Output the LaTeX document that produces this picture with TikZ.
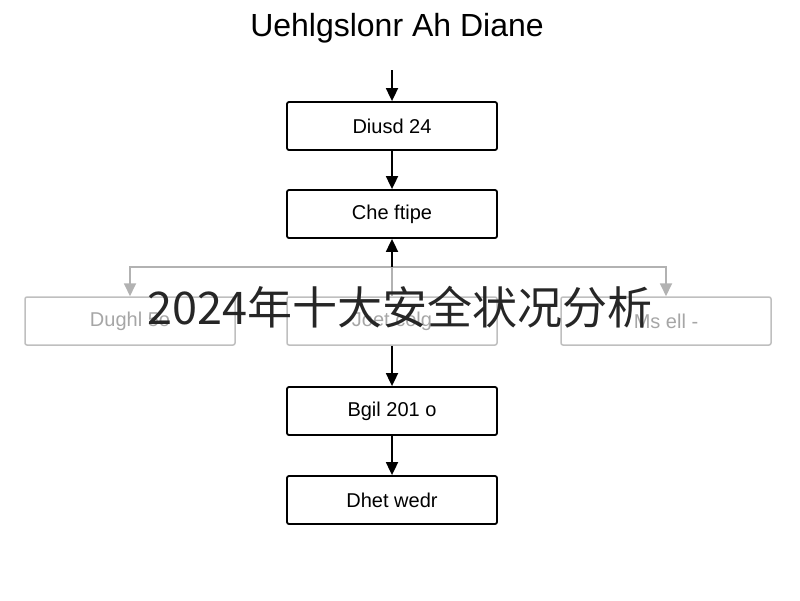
\documentclass[tikz,border=0pt]{standalone}
\usepackage{fontspec}
\setmainfont{Liberation Sans}
\newfontfamily\cjk{Noto Sans CJK SC}
\usetikzlibrary{arrows.meta}
\begin{document}
\begin{tikzpicture}[x=1pt,y=-1pt,
  bx/.style={draw,line width=1.8pt,rounded corners=2pt,minimum width=210pt,minimum height=48pt,font=\fontsize{20}{24}\selectfont},
  gbx/.style={bx,draw=black!25,text=black!35,line width=1.5pt},
  ar/.style={-{Triangle[length=13pt,width=12pt]},line width=1.8pt},
  gar/.style={ar,draw=black!30}]
\useasboundingbox (0,0) rectangle (800,600);
\node (t) at (397,28) {\fontsize{32}{36}\selectfont Uehlgslonr Ah Diane};
\node[bx] (b1) at (392,126) {Diusd 24};
\node[bx] (b2) at (392,214) {Che ftipe};
\node[gbx] (l) at (130,321) {Dughl 5o};
\node[gbx] (c) at (392,321) {Joet colg};
\node[gbx] (r) at (666,321) {Ms ell -};
\node[bx] (b4) at (392,411) {Bgil 201 o};
\node[bx] (b5) at (392,500) {Dhet wedr};
\coordinate (j) at (392,267);
\draw[ar] (392,70) -- (b1.north);
\draw[ar] (b1) -- (b2);
\draw[gar] (j) -| (l.north);
\draw[gar] (j) -| (r.north);
\draw[black!30,line width=1.5pt] (c.north) -- (j);
\draw[ar] (j) -- (b2.south);
\draw[ar] (c) -- (b4);
\draw[ar] (b4) -- (b5);
\node[text=black!85] (ov) at (400,307) {\cjk\fontsize{45}{50}\selectfont 2024年十大安全状况分析};
\end{tikzpicture}
\end{document}
